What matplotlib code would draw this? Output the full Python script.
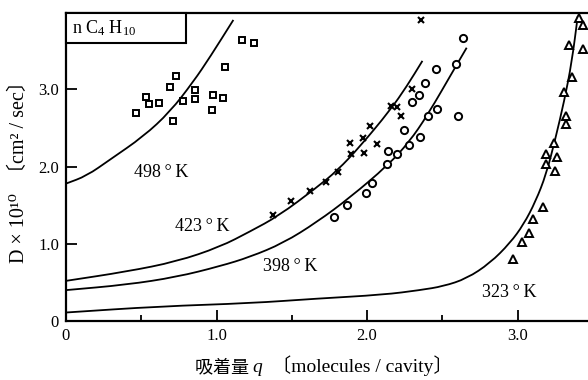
import matplotlib
matplotlib.use("Agg")
import matplotlib.pyplot as plt
from matplotlib.patches import Rectangle, PathPatch
from matplotlib.path import Path
from matplotlib.offsetbox import TextArea, HPacker, AnchoredOffsetbox

plt.rcParams['font.family'] = ['Liberation Serif', 'Noto Sans CJK JP', 'DejaVu Serif']
plt.rcParams['mathtext.fontset'] = 'custom'
plt.rcParams['mathtext.rm'] = 'Liberation Serif'
plt.rcParams['mathtext.it'] = 'Liberation Serif:italic'

# ---------------- data ----------------
# 498 K (squares)
sq_x = [0.467, 0.534, 0.554, 0.618, 0.691, 0.709, 0.733, 0.775, 0.857, 0.857,
        0.977, 0.970, 1.045, 1.054, 1.169, 1.249]
sq_y = [2.69, 2.90, 2.81, 2.82, 3.03, 2.59, 3.18, 2.85, 2.99, 2.88,
        2.93, 2.73, 2.89, 3.29, 3.64, 3.60]
c498_x = [0.0, 0.137, 0.292, 0.514, 0.691, 0.846, 0.957, 1.112]
c498_y = [1.78, 1.88, 2.09, 2.39, 2.71, 3.10, 3.42, 3.90]

# 423 K (crosses)
x423_x = [2.357, 2.299, 2.157, 2.197, 2.226, 2.020, 1.971, 1.887, 2.065, 1.980,
          1.892, 1.809, 1.728, 1.621, 1.495, 1.373]
x423_y = [3.90, 3.00, 2.79, 2.77, 2.66, 2.53, 2.37, 2.31, 2.29, 2.18,
          2.16, 1.93, 1.80, 1.68, 1.56, 1.37]
c423_x = [0.0, 0.403, 0.735, 1.023, 1.223, 1.411, 1.666, 1.803, 1.953, 2.153, 2.264, 2.368]
c423_y = [0.52, 0.64, 0.77, 0.96, 1.16, 1.36, 1.73, 1.95, 2.26, 2.73, 3.04, 3.37]

# 398 K (circles)
o398_x = [2.640, 2.591, 2.458, 2.385, 2.343, 2.299, 2.467, 2.407, 2.607, 2.246,
          2.350, 2.281, 2.140, 2.197, 2.135, 2.033, 1.991, 1.869, 1.781]
o398_y = [3.67, 3.33, 3.27, 3.08, 2.93, 2.84, 2.74, 2.66, 2.66, 2.47,
          2.39, 2.28, 2.20, 2.16, 2.04, 1.79, 1.66, 1.50, 1.35]
c398_x = [0.0, 0.403, 0.735, 1.023, 1.223, 1.444, 1.666, 1.887, 2.14, 2.28, 2.40, 2.59, 2.662]
c398_y = [0.40, 0.47, 0.57, 0.71, 0.83, 1.01, 1.28, 1.60, 2.02, 2.32, 2.66, 3.30, 3.54]

# 323 K (triangles)
t323_x = [3.411, 3.433, 3.340, 3.433, 3.360, 3.309, 3.320, 3.320, 3.243, 3.191,
          3.264, 3.191, 3.249, 3.167, 3.105, 3.074, 3.032, 2.972]
t323_y = [3.93, 3.83, 3.58, 3.53, 3.16, 2.97, 2.66, 2.55, 2.30, 2.16,
          2.13, 2.04, 1.94, 1.48, 1.32, 1.14, 1.02, 0.80]
c323_x = [0.0, 0.625, 1.223, 1.666, 2.108, 2.352, 2.507, 2.662, 2.817, 2.95,
          3.04, 3.12, 3.19, 3.25, 3.31, 3.36, 3.40]
c323_y = [0.11, 0.19, 0.23, 0.29, 0.34, 0.40, 0.45, 0.55, 0.75, 1.01,
          1.25, 1.55, 1.90, 2.35, 2.85, 3.35, 3.95]

xtick_vals = [0, 1, 2, 3]
xtick_labels = ['0', '1.0', '2.0', '3.0']
ytick_vals = [0, 1, 2, 3]
ytick_labels = ['0', '1.0', '2.0', '3.0']


def smooth_path(xs, ys):
    """Quadratic-Bezier path using the read points as control points."""
    pts = list(zip(xs, ys))
    verts = [pts[0]]
    codes = [Path.MOVETO]
    mids = [((pts[i][0] + pts[i + 1][0]) / 2, (pts[i][1] + pts[i + 1][1]) / 2)
            for i in range(len(pts) - 1)]
    verts.append(mids[0]); codes.append(Path.LINETO)
    for i in range(1, len(pts) - 1):
        verts += [pts[i], mids[i]]
        codes += [Path.CURVE3, Path.CURVE3]
    verts.append(pts[-1]); codes.append(Path.LINETO)
    return Path(verts, codes)


# ---------------- figure ----------------
fig = plt.figure(figsize=(5.88, 3.80), dpi=100)
ax = fig.add_axes([66/588, 1-321/380, 522/588, 308/380])

for cx, cy in [(c498_x, c498_y), (c423_x, c423_y), (c398_x, c398_y), (c323_x, c323_y)]:
    ax.add_patch(PathPatch(smooth_path(cx, cy), facecolor='none',
                           edgecolor='black', lw=1.3, zorder=2))

mk = dict(linestyle='none', markerfacecolor='white', markeredgecolor='black', zorder=3)
ax.plot(sq_x, sq_y, marker='s', markersize=4.2, markeredgewidth=1.4, **mk)
ax.plot(o398_x, o398_y, marker='o', markersize=5.2, markeredgewidth=1.4, **mk)
ax.plot(t323_x, t323_y, marker='^', markersize=5.5, markeredgewidth=1.4, **mk)
ax.plot(x423_x, x423_y, marker='x', markersize=4.2, markeredgewidth=1.5,
        linestyle='none', color='black', zorder=3)

ax.set_xlim(0, 3.468)
ax.set_ylim(0, 3.99)

ax.set_xticks(xtick_vals)
ax.set_xticklabels(xtick_labels)
ax.set_xticks([0.5, 1.5, 2.5], minor=True)
ax.set_yticks(ytick_vals)
ax.set_yticklabels(ytick_labels)
ax.tick_params(axis='both', which='major', direction='in', length=8, width=1.3,
               labelsize=12, pad=5)
ax.tick_params(axis='x', which='minor', direction='in', length=4.5, width=1.3)
ax.tick_params(axis='y', which='major', pad=5)

for s in ['left', 'bottom', 'top']:
    ax.spines[s].set_linewidth(1.6)
ax.spines['right'].set_visible(False)

# curve labels
lab_kw = dict(fontsize=13, va='center', ha='left')
ax.text(0.45, 1.93, '498\u2009°\u2009K', **lab_kw)
ax.text(0.724, 1.22, '423\u2009°\u2009K', **lab_kw)
ax.text(1.31, 0.70, '398\u2009°\u2009K', **lab_kw)
ax.text(2.762, 0.37, '323\u2009°\u2009K', **lab_kw)

# species box
ax.add_patch(Rectangle((0, 0.903), 0.23, 0.097, transform=ax.transAxes,
                       facecolor='white', edgecolor='black', lw=1.5, zorder=5,
                       clip_on=False))
ax.text(0.012, 0.951, r'n C$_4$ H$_{10}$', transform=ax.transAxes,
        fontsize=13, va='center', ha='left', zorder=6)

# y label
ax.set_ylabel('D × 10¹⁰  〔cm² / sec〕', fontsize=14.5)
ax.yaxis.set_label_coords(-0.070, 0.5)

# x label composed of parts
fam = ['Noto Sans CJK JP', 'Liberation Serif']
ta1 = TextArea('吸着量 ', textprops=dict(fontsize=13, family=fam))
ta2 = TextArea('q', textprops=dict(fontsize=14, family='Liberation Serif', style='italic'))
ta3 = TextArea('  〔molecules / cavity〕', textprops=dict(fontsize=14, family=['Liberation Serif', 'Noto Sans CJK JP']))
box = HPacker(children=[ta1, ta2, ta3], align='baseline', pad=0, sep=0)
anch = AnchoredOffsetbox(loc='center', child=box, frameon=False,
                         bbox_to_anchor=(324/588, 1-366/380),
                         bbox_transform=fig.transFigure, borderpad=0, pad=0)
fig.add_artist(anch)

fig.savefig('out.png', dpi=100)
